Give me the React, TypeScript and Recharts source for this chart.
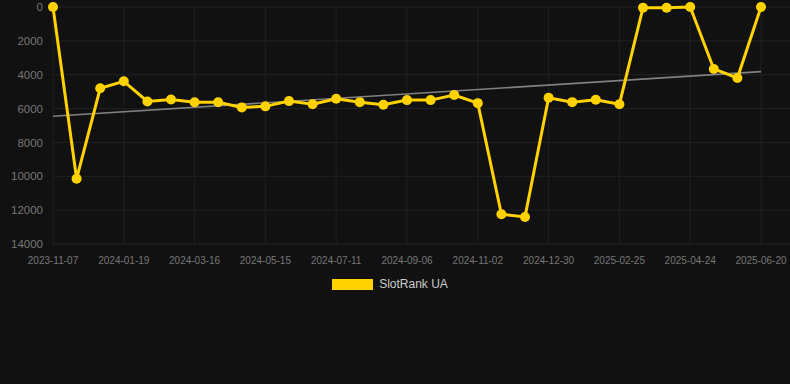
import React from "react";
import {
  LineChart,
  Line,
  XAxis,
  YAxis,
  CartesianGrid,
  Legend,
  ReferenceLine,
} from "recharts";

const dates = [
  "2023-11-07", "2023-11-29", "2023-12-21", "2024-01-19", "2024-02-07",
  "2024-02-26", "2024-03-16", "2024-04-05", "2024-04-25", "2024-05-15",
  "2024-06-03", "2024-06-22", "2024-07-11", "2024-07-30", "2024-08-18",
  "2024-09-06", "2024-09-25", "2024-10-14", "2024-11-02", "2024-11-21",
  "2024-12-10", "2024-12-30", "2025-01-18", "2025-02-06", "2025-02-25",
  "2025-03-16", "2025-04-04", "2025-04-24", "2025-05-13", "2025-06-01",
  "2025-06-20",
];

const rankUA = [
  0, 10150, 4800, 4390, 5580, 5460, 5630, 5630, 5930, 5870,
  5560, 5740, 5420, 5620, 5770, 5500, 5500, 5200, 5680, 12240,
  12400, 5360, 5620, 5480, 5740, 40, 40, 0, 3660, 4190,
  0,
];

// trend line only known at its two ends
const trendStart = 6450;
const trendEnd = 3820;

const yTicks = [0, 2000, 4000, 6000, 8000, 10000, 12000, 14000];

// dates that carry a label (and a vertical grid line)
const xTicks = dates.filter((_, i) => i % 3 === 0);

const data = dates.map((d, i) => ({
  date: d,
  rank: rankUA[i],
  trend: i === 0 ? trendStart : i === dates.length - 1 ? trendEnd : null,
}));

const font = '"Liberation Sans", Arial, sans-serif';

const LegendBox = () => (
  <div
    style={{
      display: "flex",
      justifyContent: "center",
      alignItems: "center",
      fontFamily: font,
      fontSize: 12,
      color: "#cccccc",
      paddingRight: 10,
    }}
  >
    <span
      style={{
        display: "inline-block",
        width: 41,
        height: 11,
        background: "#ffd200",
        marginRight: 6,
      }}
    />
    SlotRank UA
  </div>
);

const App = () => {
  return (
    <div
      style={{
        position: "fixed",
        top: 0,
        left: 0,
        width: 790,
        height: 384,
        background: "#111111",
      }}
    >
      <LineChart
        width={790}
        height={384}
        data={data}
        margin={{ top: 7, right: 0, left: 0, bottom: 0 }}
      >
        <CartesianGrid stroke="#222222" vertical={false} />
        {xTicks.map((d) => (
          <ReferenceLine key={d} x={d} stroke="#202020" />
        ))}
        <XAxis
          dataKey="date"
          interval={2}
          height={126}
          padding={{ left: 0, right: 29 }}
          axisLine={false}
          tickLine={false}
          tickMargin={7}
          tick={{ fill: "#777777", fontSize: 10, fontFamily: font }}
        />
        <YAxis
          reversed
          domain={[0, 14000]}
          ticks={yTicks}
          width={53}
          axisLine={false}
          tickLine={false}
          tickMargin={4}
          tick={{ fill: "#777777", fontSize: 11.5, fontFamily: font }}
        />
        <Legend
          content={<LegendBox />}
          wrapperStyle={{ top: 277, left: 0, width: 790 }}
        />
        <Line
          type="linear"
          dataKey="trend"
          stroke="#808080"
          strokeWidth={1.6}
          dot={false}
          connectNulls
          legendType="none"
          isAnimationActive={false}
        />
        <Line
          type="linear"
          dataKey="rank"
          stroke="#ffd200"
          strokeWidth={3}
          dot={{ r: 5, fill: "#ffd200", stroke: "#ffd200", strokeWidth: 0 }}
          activeDot={false}
          isAnimationActive={false}
        />
      </LineChart>
    </div>
  );
};

export default App;
